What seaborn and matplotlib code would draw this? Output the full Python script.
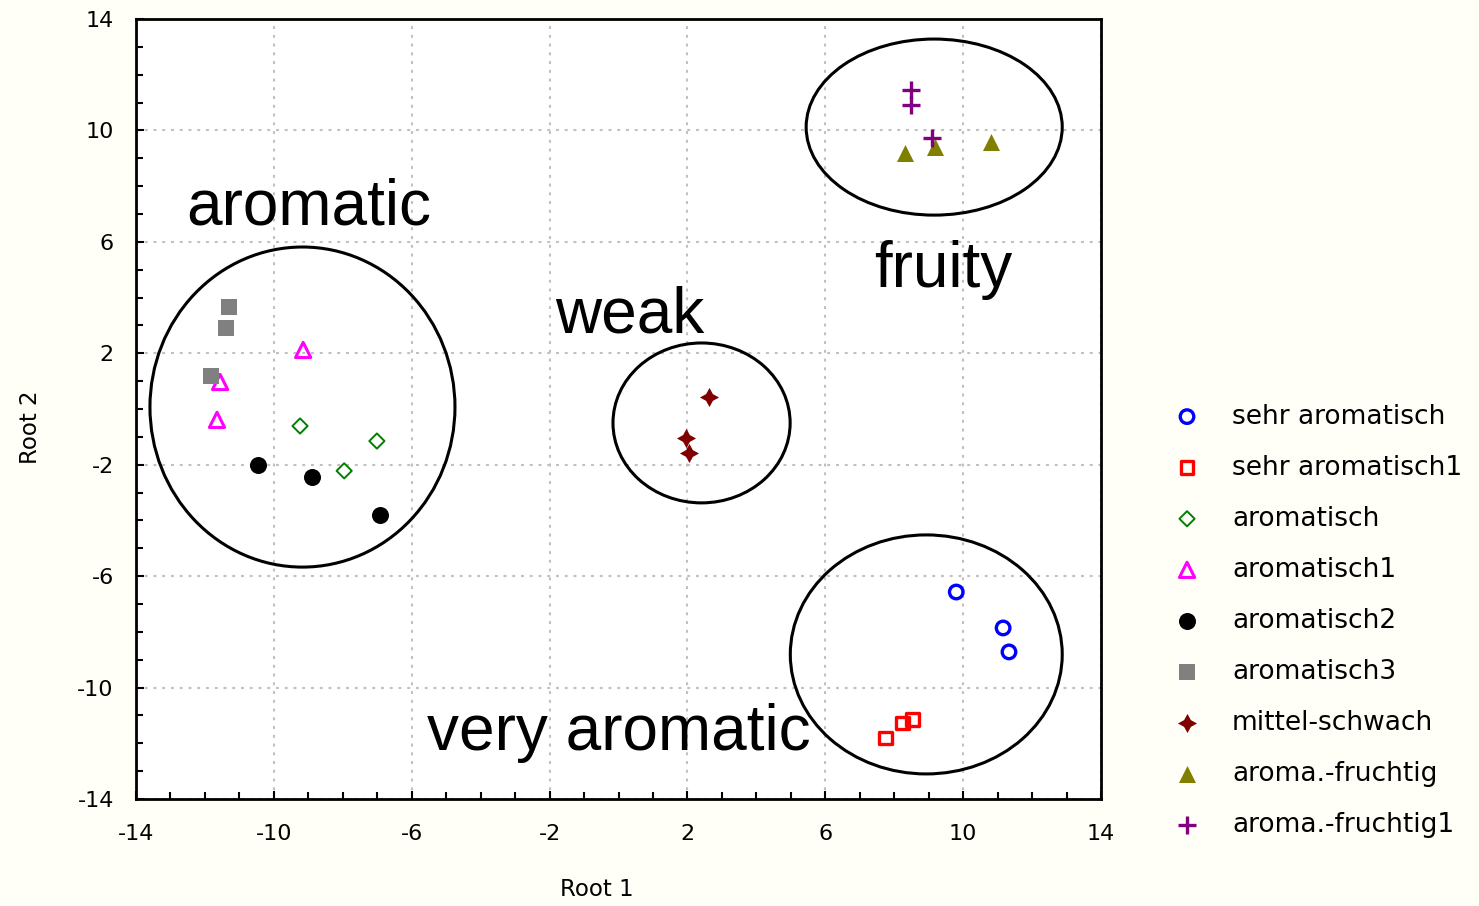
import matplotlib
matplotlib.use("Agg")
import matplotlib.pyplot as plt
import seaborn as sns
import pandas as pd
from matplotlib.patches import Ellipse
from matplotlib.ticker import MultipleLocator

# Discriminant scores (Root 1, Root 2) per aroma class
groups = ["sehr aromatisch", "sehr aromatisch1", "aromatisch", "aromatisch1",
          "aromatisch2", "aromatisch3", "mittel-schwach", "aroma.-fruchtig",
          "aroma.-fruchtig1"]

root1 = {
    "sehr aromatisch":  [9.80, 11.16, 11.33],
    "sehr aromatisch1": [7.74, 8.23, 8.52],
    "aromatisch":       [-9.24, -7.01, -7.96],
    "aromatisch1":      [-9.15, -11.56, -11.65],
    "aromatisch2":      [-10.46, -8.89, -6.92],
    "aromatisch3":      [-11.30, -11.39, -11.82],
    "mittel-schwach":   [2.63, 1.96, 2.05],
    "aroma.-fruchtig":  [8.32, 9.19, 10.81],
    "aroma.-fruchtig1": [8.49, 8.49, 9.10],
}
root2 = {
    "sehr aromatisch":  [-6.57, -7.86, -8.72],
    "sehr aromatisch1": [-11.81, -11.27, -11.16],
    "aromatisch":       [-0.61, -1.15, -2.22],
    "aromatisch1":      [2.12, 0.97, -0.39],
    "aromatisch2":      [-2.01, -2.44, -3.80],
    "aromatisch3":      [3.66, 2.91, 1.19],
    "mittel-schwach":   [0.43, -1.04, -1.58],
    "aroma.-fruchtig":  [9.19, 9.41, 9.59],
    "aroma.-fruchtig1": [11.45, 10.91, 9.73],
}

# Cluster outlines: label, centre, width, height
cluster_names = ["aromatic", "weak", "fruity", "very aromatic"]
cluster_centres = [(-9.17, 0.07), (2.41, -0.50), (9.16, 10.12), (8.93, -8.81)]
cluster_sizes = [(8.85, 11.49), (5.14, 5.74), (7.43, 6.32), (7.89, 8.58)]
cluster_text_pos = [(-12.55, 6.64), (-1.84, 2.73), (7.42, 4.38), (-5.56, -12.24)]

ticks = [-14, -10, -6, -2, 2, 6, 10, 14]

df = pd.DataFrame({
    "Root 1": [v for g in groups for v in root1[g]],
    "Root 2": [v for g in groups for v in root2[g]],
    "group": [g for g in groups for _ in root1[g]],
})

# marker style per class: marker, colour, open outline?, size, edge width
styles = {
    "sehr aromatisch":  ("o", "#0000FF", True, 95, 2.4),
    "sehr aromatisch1": ("s", "#FF0000", True, 85, 2.4),
    "aromatisch":       ("D", "#008000", True, 60, 1.4),
    "aromatisch1":      ("^", "#FF00FF", True, 120, 2.2),
    "aromatisch2":      ("o", "#000000", False, 150, 0),
    "aromatisch3":      ("s", "#808080", False, 130, 0),
    "mittel-schwach":   ((4, 1, 0), "#800000", False, 190, 0),
    "aroma.-fruchtig":  ("^", "#808000", False, 150, 0),
    "aroma.-fruchtig1": ("+", "#800080", False, 150, 2.4),
}

bg = "#FFFFF7"
sns.set_style("white")
plt.rcParams["font.family"] = ["DejaVu Sans"]
plt.rcParams["text.color"] = "black"
plt.rcParams["axes.labelcolor"] = "black"
plt.rcParams["xtick.color"] = "black"
plt.rcParams["ytick.color"] = "black"

fig = plt.figure(figsize=(14.79, 9.06), dpi=100, facecolor=bg)
ax = fig.add_axes([136 / 1479, 1 - 799 / 906, 965 / 1479, 780 / 906])
ax.set_facecolor("white")

for g in groups:
    m, c, hollow, s, lw = styles[g]
    sub = df[df["group"] == g]
    if hollow:
        sns.scatterplot(data=sub, x="Root 1", y="Root 2", ax=ax, marker=m,
                        s=s, facecolor="none", edgecolor=c, color=c,
                        linewidth=lw, label=g, zorder=5)
    else:
        sns.scatterplot(data=sub, x="Root 1", y="Root 2", ax=ax, marker=m,
                        s=s, color=c, edgecolor=c, linewidth=lw, label=g,
                        zorder=5)

for name, (cx, cy), (w, h), (tx, ty) in zip(cluster_names, cluster_centres,
                                             cluster_sizes, cluster_text_pos):
    ax.add_patch(Ellipse((cx, cy), w, h, fill=False, edgecolor="black",
                         linewidth=2.2, zorder=4))
    ax.text(tx, ty, name, fontsize=46, family="Liberation Sans",
            ha="left", va="baseline", color="black", zorder=6)

ax.set_xlim(-14, 14)
ax.set_ylim(-14, 14)
ax.set_xticks(ticks)
ax.set_yticks(ticks)
ax.set_xticklabels([str(t) for t in ticks])
ax.set_yticklabels([str(t) for t in ticks])
ax.xaxis.set_minor_locator(MultipleLocator(1))
ax.yaxis.set_minor_locator(MultipleLocator(1))
ax.tick_params(which="both", direction="in", color="black", width=1.5,
               bottom=True, left=True, top=False, right=False)
ax.tick_params(which="major", length=6, labelsize=16, labelcolor="black")
ax.tick_params(which="minor", length=5)
ax.tick_params(axis="x", which="major", pad=18)
ax.tick_params(axis="y", which="major", pad=16)
ax.grid(True, which="major", color="#C0C0C0", linewidth=1.5,
        linestyle=(0, (1.4, 2.8)))
ax.set_axisbelow(True)
for sp in ax.spines.values():
    sp.set_visible(True)
    sp.set_color("black")
    sp.set_linewidth(2)

ax.set_xlabel("Root 1", fontsize=16.5, color="black")
ax.set_ylabel("Root 2", fontsize=16.5, color="black")
ax.xaxis.set_label_coords((597 - 136) / 965, -0.101)
ax.yaxis.set_label_coords(-0.097, 0.476)

handles, labels = ax.get_legend_handles_labels()
ax.get_legend().remove()
leg = fig.legend(handles, labels, loc="upper left",
                 bbox_to_anchor=(1158 / 1479, 1 - 393 / 906), frameon=False,
                 fontsize=19, labelspacing=0.95, handletextpad=1.0,
                 handlelength=1.4, borderaxespad=0)
for t in leg.get_texts():
    t.set_color("black")

fig.savefig("out.png", dpi=100, facecolor=bg)
